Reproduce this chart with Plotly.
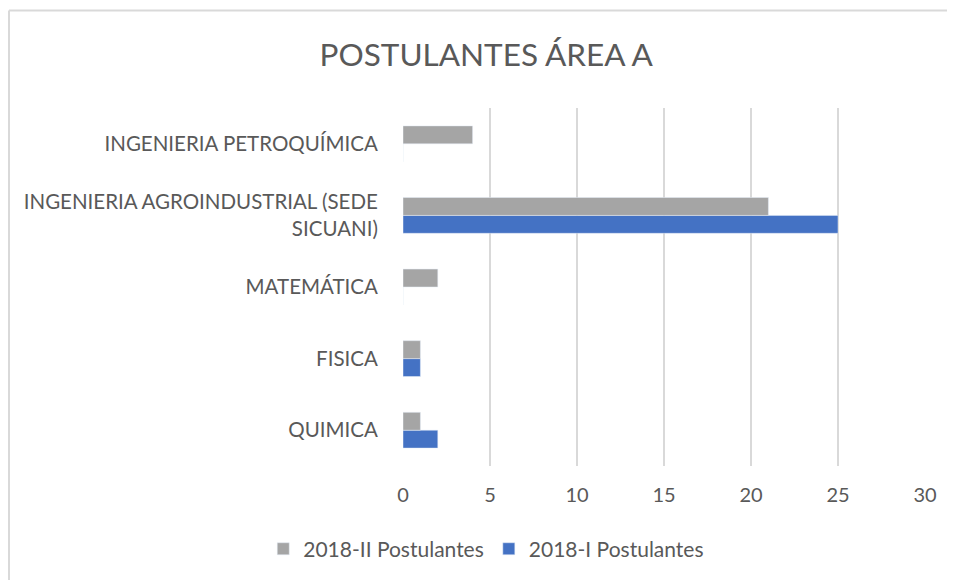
import plotly.graph_objects as go

categories = ["QUIMICA", "FISICA", "MATEMÁTICA",
              "INGENIERIA AGROINDUSTRIAL (SEDE<br>SICUANI)",
              "INGENIERIA PETROQUÍMICA"]
post_2018_II = [1, 1, 2, 21, 4]
post_2018_I = [2, 1, 0, 25, 0]
x_ticks = [0, 5, 10, 15, 20, 25, 30]

FONT = "Lato, 'Open Sans', sans-serif"
TXT = "#595959"

W, H = 947, 572
L, R, T, B = 395, 30, 100, 114
PW, PH = W - L - R, H - T - B

fig = go.Figure()
fig.add_trace(go.Bar(y=categories, x=post_2018_I, orientation="h",
                     name="2018-I Postulantes", marker=dict(color="#4472C4"),
                     legendrank=2))
fig.add_trace(go.Bar(y=categories, x=post_2018_II, orientation="h",
                     name="2018-II Postulantes", marker=dict(color="#A5A5A5"),
                     legendrank=1))

fig.update_layout(
    width=W, height=H,
    margin=dict(l=L, r=R, t=T, b=B, autoexpand=False),
    paper_bgcolor="white", plot_bgcolor="white",
    barmode="group", bargap=0.5, bargroupgap=0,
    font=dict(family=FONT, color=TXT, size=20),
    title=dict(text="POSTULANTES ÁREA A", x=0.505, xref="container", xanchor="center",
               y=0.918, yref="container", yanchor="middle",
               font=dict(size=31.5, color=TXT, family=FONT)),
    xaxis=dict(range=[0, 30], tickvals=x_ticks, showgrid=True, gridcolor="#D9D9D9",
               gridwidth=1.5, zeroline=False, showline=False, automargin=False,
               tickfont=dict(size=20, color=TXT), ticks="outside", ticklen=11,
               tickcolor="rgba(0,0,0,0)"),
    yaxis=dict(showgrid=False, zeroline=False, showline=False, automargin=False,
               tickfont=dict(size=20.5, color=TXT), ticks="outside", ticklen=20,
               tickcolor="rgba(0,0,0,0)"),
    legend=dict(orientation="h", xref="container", x=0.505, xanchor="center",
                yref="container", y=0.054, yanchor="middle",
                font=dict(size=21, color=TXT), itemwidth=30),
    showlegend=True,
)

x_left = (1 - L) / PW
x_right = (W - L) / PW
y_top = (T + PH - 2.5) / PH
y_bot = (T + PH - H) / PH
fig.add_shape(type="line", xref="paper", yref="paper", x0=x_left, x1=x_right,
              y0=y_top, y1=y_top, line=dict(color="#D9D9D9", width=2))
fig.add_shape(type="line", xref="paper", yref="paper", x0=x_left, x1=x_left,
              y0=y_top, y1=y_bot, line=dict(color="#D9D9D9", width=2))

fig.write_html("out.html")
